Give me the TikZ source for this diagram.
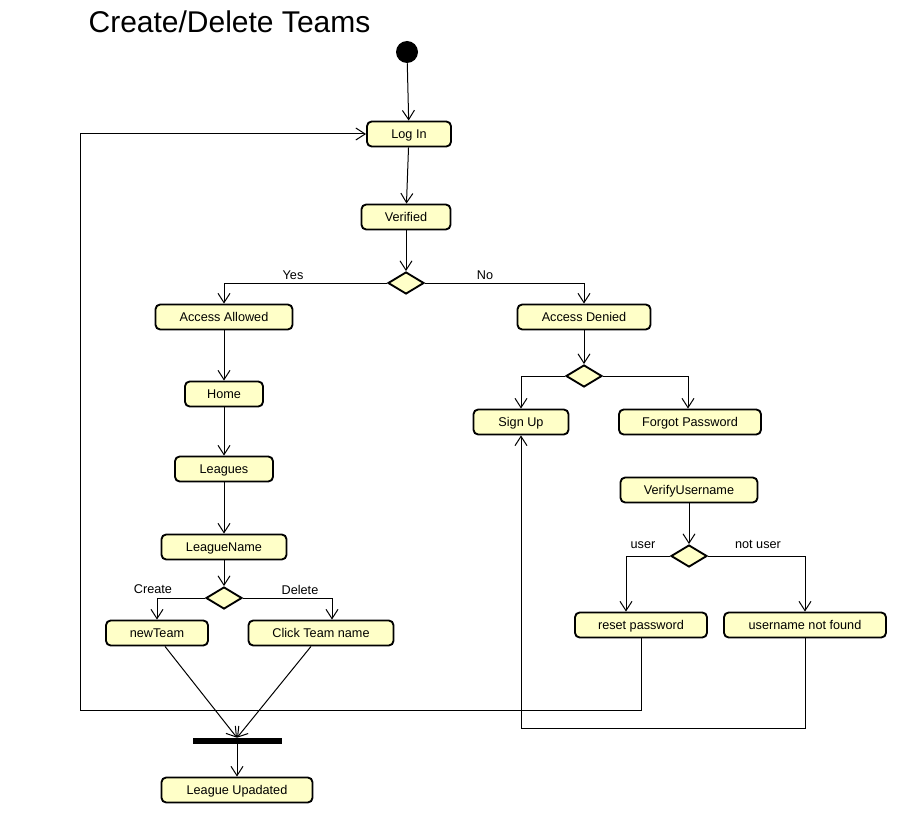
\documentclass[tikz,border=0pt]{standalone}
\usepackage{fontspec}
\setmainfont{Liberation Sans}
\usetikzlibrary{arrows.meta, shapes.geometric}
\definecolor{actfill}{RGB}{255,255,200}

\begin{document}
\begin{tikzpicture}[
    x=0.75pt, y=-0.75pt,
    font=\fontsize{9.5}{11}\selectfont,
    action/.style={draw, line width=1.4pt, rounded corners=3.5pt, fill=actfill, minimum height=18.75pt,
      inner sep=0, text height=9pt, text depth=1.8pt},
    branch/.style={diamond, draw, line width=1.4pt, fill=actfill, minimum width=27pt, minimum height=16.5pt, inner sep=0},
    flow/.style={-{Straight Barb[length=7pt, width=9pt]}, line width=0.75pt},
  ]
  \useasboundingbox (0,0) rectangle (918,813);

  \node (title) [anchor=base] at (229.5,33) {\fontsize{22.5}{26}\selectfont Create/Delete Teams};
  \node (start) [circle, fill, inner sep=0, minimum size=16.5pt] at (407,52) {};

  % Actions
  \node (login)      [action, minimum width=63pt]     at (409,134) {Log In};
  \node (verified)   [action, minimum width=66.75pt]  at (406,217) {Verified};
  \node (allowed)    [action, minimum width=102.75pt] at (224,317) {Access Allowed};
  \node (denied)     [action, minimum width=99.75pt]  at (584,317) {Access Denied};
  \node (home)       [action, minimum width=58.5pt]   at (224,394) {Home};
  \node (signup)     [action, minimum width=71.25pt]  at (521,422) {Sign Up};
  \node (forgot)     [action, minimum width=106.5pt]  at (690,422) {Forgot Password};
  \node (leagues)    [action, minimum width=73.5pt]   at (224,469) {Leagues};
  \node (verifyuser) [action, minimum width=102.75pt] at (689,490) {VerifyUsername};
  \node (leaguename) [action, minimum width=93.75pt]  at (224,547) {LeagueName};
  \node (newteam)    [action, minimum width=76.5pt]   at (157,633) {newTeam};
  \node (clickteam)  [action, minimum width=108.75pt] at (321,633) {Click Team name};
  \node (reset)      [action, minimum width=99pt]     at (641,625) {reset password};
  \node (notfound)   [action, minimum width=121.5pt]  at (805,625) {username not found};
  \node (updated)    [action, minimum width=113.25pt] at (237,790) {League Upadated};

  % Decisions and join
  \node (dec1) [branch] at (406,283) {};
  \node (dec2) [branch] at (584,376) {};
  \node (dec3) [branch] at (689,556) {};
  \node (dec4) [branch] at (224,598) {};
  \node (bar) [fill, inner sep=0, minimum width=66.75pt, minimum height=4.5pt] at (237,741) {};

  % Guards
  \node (yes)     [anchor=base] at (293,279) {Yes};
  \node (no)      [anchor=base] at (485,279) {No};
  \node (create)  [anchor=base] at (153,593) {Create};
  \node (delete)  [anchor=base] at (300,594) {Delete};
  \node (user)    [anchor=base] at (643,548) {user};
  \node (notuser) [anchor=base] at (758,548) {not user};

  \coordinate (retL) at (80,710);
  \coordinate (retR) at (521,728);

  % Straight flows
  \foreach \a/\b in {start/login, login/verified, verified/dec1, allowed/home, home/leagues,
                     leagues/leaguename, leaguename/dec4, denied/dec2, verifyuser/dec3, bar/updated}{%
    \draw [flow] (\a) -- (\b);
  };

  % Branches
  \draw [flow] (dec1.west) -| (allowed.north);
  \draw [flow] (dec1.east) -| (denied.north);
  \draw [flow] (dec2.west) -| (signup.north);
  \draw [flow] (dec2.east) -| ([xshift=-1.5pt]forgot.north);
  \draw [flow] (dec3.west) -| ([xshift=-11.25pt]reset.north);
  \draw [flow] (dec3.east) -| (notfound.north);
  \draw [flow] (dec4.west) -| (newteam.north);
  \draw [flow] (dec4.east) -| ([xshift=8.25pt]clickteam.north);

  % Join
  \draw [flow] ([xshift=6pt]newteam.south) -- (bar.north);
  \draw [flow] ([xshift=-7.5pt]clickteam.south) -- (bar.north);

  % Back to start
  \draw [flow] (reset.south) |- (retL) |- (login.west);
  \draw [flow] (notfound.south) |- (retR) -- (signup.south);
\end{tikzpicture}
\end{document}
